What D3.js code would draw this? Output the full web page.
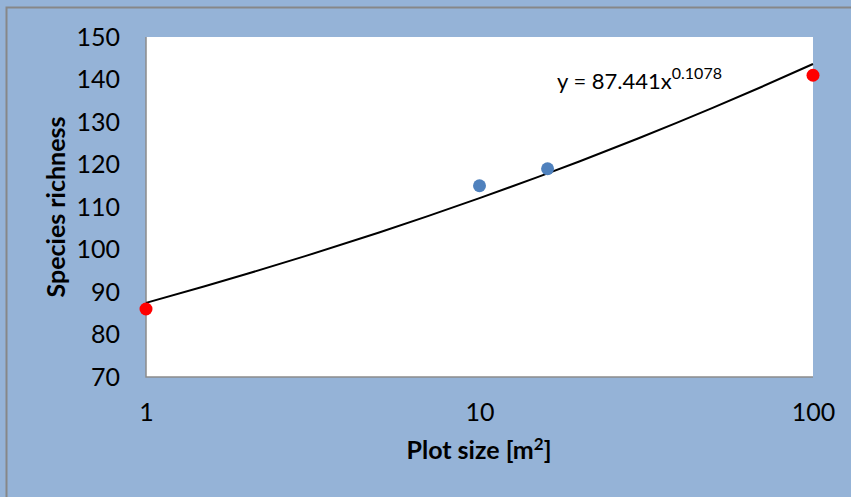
<!DOCTYPE html>
<html>
<head>
<meta charset="utf-8">
<script src="https://cdn.jsdelivr.net/npm/d3@7"></script>
<style>
  body { margin: 0; background: #95b3d7; }
  svg { display: block; font-family: Lato, "Open Sans", sans-serif; }
</style>
</head>
<body>
<svg></svg>
<script>
let svgWidth = 851;
let svgHeight = 497;

// observed points
let plotSize = [1, 10, 16, 100];
let richness = [86, 115, 119, 141];
let pointColor = ["#ff0000", "#4f81bd", "#4f81bd", "#ff0000"];

// power trend line y = a * x^b
let trendA = 87.441;
let trendB = 0.1078;
let trendX = [1, 1.5, 2, 3, 5, 7, 10, 15, 20, 30, 50, 70, 100];

let yTicks = [70, 80, 90, 100, 110, 120, 130, 140, 150];
let xTicks = [1, 10, 100];

let plot = { left: 146, top: 37, right: 813, bottom: 377 };

let svg = d3.select("svg").attr("width", svgWidth).attr("height", svgHeight);

svg.append("rect").attr("width", svgWidth).attr("height", svgHeight).attr("fill", "#95b3d7");
// chart frame (only left/top visible)
svg.append("path")
    .attr("d", "M6.5," + svgHeight + "V7.5H" + svgWidth)
    .attr("fill", "none").attr("stroke", "#878787").attr("stroke-width", 2);

let xScale = d3.scaleLog().domain([1, 100]).range([plot.left, plot.right]);
let yScale = d3.scaleLinear().domain([70, 150]).range([plot.bottom, plot.top]);

svg.append("rect")
    .attr("x", plot.left).attr("y", plot.top)
    .attr("width", plot.right - plot.left).attr("height", plot.bottom - plot.top)
    .attr("fill", "#ffffff");

// axis lines
svg.append("path")
    .attr("d", "M" + plot.left + "," + plot.top + "V" + plot.bottom + "H" + plot.right)
    .attr("fill", "none").attr("stroke", "#8c8c8c").attr("stroke-width", 1.5);

let y_axis = d3.axisLeft(yScale).tickValues(yTicks).tickSize(0).tickPadding(26);
let gy = svg.append("g").attr("transform", "translate(" + plot.left + ",0)").call(y_axis);
gy.select(".domain").remove();
gy.selectAll("text").attr("font-family", "Lato").attr("font-size", 25).attr("fill", "#000");

let x_axis = d3.axisBottom(xScale).tickValues(xTicks).tickFormat(d3.format("d")).tickSize(0).tickPadding(0);
let gx = svg.append("g").attr("transform", "translate(0," + plot.bottom + ")").call(x_axis);
gx.select(".domain").remove();
gx.selectAll("text").attr("dy", null).attr("y", 44)
    .attr("font-family", "Lato").attr("font-size", 25).attr("fill", "#000");

// trend line
let line = d3.line()
    .x(function(d) { return xScale(d); })
    .y(function(d) { return yScale(trendA * Math.pow(d, trendB)); })
    .curve(d3.curveMonotoneX);
svg.append("path")
    .attr("d", line(trendX))
    .attr("fill", "none").attr("stroke", "#000").attr("stroke-width", 2);

// points
svg.append("g").selectAll("circle")
    .data(plotSize)
    .enter().append("circle")
    .attr("cx", function(d) { return xScale(d); })
    .attr("cy", function(d, i) { return yScale(richness[i]); })
    .attr("r", 6.5)
    .attr("fill", function(d, i) { return pointColor[i]; });

// equation
let eq = svg.append("text")
    .attr("x", 557).attr("y", 89)
    .attr("font-size", 22).attr("fill", "#000");
eq.append("tspan").text("y = " + trendA + "x");
eq.append("tspan").attr("dy", -10).attr("font-size", 16).text(trendB);

// axis titles
svg.append("text")
    .attr("transform", "translate(65,207) rotate(-90)")
    .attr("text-anchor", "middle")
    .attr("font-size", 25).attr("font-weight", "bold")
    .text("Species richness");

let xt = svg.append("text")
    .attr("x", 479).attr("y", 459)
    .attr("text-anchor", "middle")
    .attr("font-size", 25).attr("font-weight", "bold");
xt.append("tspan").text("Plot size [m");
xt.append("tspan").attr("dy", -9).attr("font-size", 17).text("2");
xt.append("tspan").attr("dy", 9).text("]");
</script>
</body>
</html>
